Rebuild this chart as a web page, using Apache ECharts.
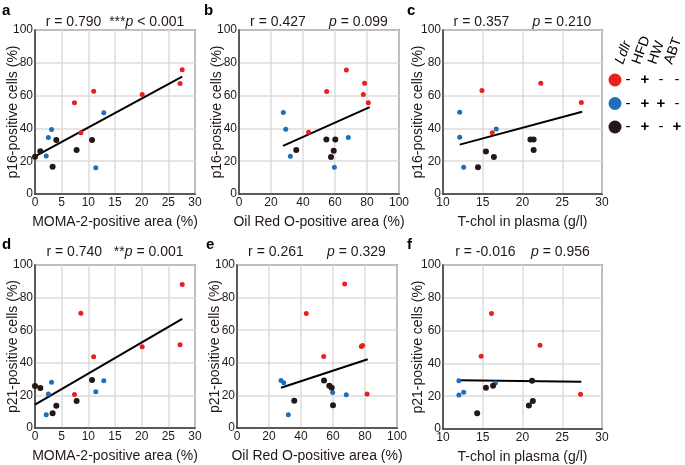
<!DOCTYPE html>
<html>
<head>
<meta charset="utf-8">
<script src="https://cdn.jsdelivr.net/npm/echarts@6/dist/echarts.min.js"></script>
<style>
  html, body { margin: 0; padding: 0; background: #fff; }
  #chart { width: 685px; height: 465px; }
</style>
</head>
<body>
<div id="chart"></div>
<script>
// values, [x, y] per mouse
var aRed = [[27.6, 75.7], [27.2, 67.4], [20.1, 60.7], [11.0, 62.7], [7.4, 55.6], [8.6, 37.4]];
var aBlue = [[12.9, 49.5], [3.1, 39.4], [2.5, 34.5], [2.1, 23.1], [11.4, 16.0]];
var aBlack = [[0, 22.7], [1.0, 26.0], [4.0, 32.9], [3.3, 16.6], [7.8, 26.8], [10.7, 32.9]];
var aFit = [[0, 22.9], [27.6, 71.5]];

var bRed = [[67.1, 75.6], [78.5, 67.6], [77.7, 60.7], [54.8, 62.5], [80.8, 55.6], [43.5, 37.7]];
var bBlue = [[27.7, 49.7], [29.2, 39.5], [32.1, 23.0], [68.3, 34.4], [59.6, 16.3]];
var bBlack = [[35.8, 26.9], [54.6, 33.2], [60.2, 33.2], [59.2, 26.3], [57.5, 22.6]];
var bFit = [[27.5, 29.3], [81.7, 53.0]];

var cRed = [[14.9, 63.1], [22.3, 67.6], [27.4, 55.8], [16.2, 37.3]];
var cBlue = [[12.1, 49.9], [12.1, 34.6], [12.6, 16.3], [16.7, 39.7]];
var cBlack = [[14.4, 16.3], [15.4, 25.9], [16.4, 22.6], [21.0, 33.2], [21.4, 33.2], [21.4, 26.9]];
var cFit = [[12.1, 30.1], [27.5, 50.1]];

var dRed = [[27.6, 88.0], [27.2, 51.0], [20.1, 49.8], [11.0, 43.7], [8.6, 70.4], [7.4, 20.6]];
var dBlue = [[12.9, 29.0], [3.1, 28.0], [2.5, 20.8], [2.1, 8.2], [11.4, 22.2]];
var dBlack = [[0, 25.7], [1.0, 24.5], [4.0, 13.7], [3.3, 9.0], [7.8, 16.5], [10.7, 29.4]];
var dFit = [[0, 14.3], [27.6, 66.9]];

var eRed = [[67.3, 88.4], [43.3, 70.2], [77.7, 50.0], [78.5, 50.6], [54.2, 43.9], [81.3, 20.8]];
var eBlue = [[27.5, 29.2], [29.2, 27.8], [32.1, 8.2], [59.8, 21.8], [68.3, 20.4]];
var eBlack = [[35.8, 16.7], [54.4, 29.2], [57.7, 25.9], [59.2, 24.7], [60.0, 13.9]];
var eFit = [[27.5, 24.7], [81.7, 42.2]];

var fRed = [[16.1, 70.4], [22.2, 51.0], [14.8, 44.3], [27.3, 21.2]];
var fBlue = [[12.0, 29.4], [12.0, 20.8], [12.6, 22.4], [16.6, 28.0]];
var fBlack = [[14.3, 9.6], [15.4, 25.1], [16.3, 26.3], [21.2, 29.4], [20.8, 14.3], [21.3, 17.1]];
var fFit = [[12.0, 29.8], [27.4, 28.8]];

var xNames = ['MOMA-2-positive area (%)', 'Oil Red O-positive area (%)', 'T-chol in plasma (g/l)'];
var yNames = ['p16-positive cells (%)', 'p21-positive cells (%)'];
var xRanges = [[0, 30, 5], [0, 100, 20], [10, 30, 5]];
var titles = [
  'r = 0.790  ***{i|p} < 0.001',
  'r = 0.427      {i|p} = 0.099',
  'r = 0.357      {i|p} = 0.210',
  'r = 0.740   **{i|p} = 0.001',
  'r = 0.261      {i|p} = 0.329',
  'r = -0.016    {i|p} = 0.956'
];
var letters = ['a', 'b', 'c', 'd', 'e', 'f'];
var legendRows = [['-', '+', '-', '-'], ['-', '+', '+', '-'], ['-', '+', '-', '+']];
var legendHeads = ['Ldlr', 'HFD', 'HW', 'ABT'];

var RED = '#e8211c', BLUE = '#1f6fb8', BLACK = '#231815';
var FONT = '"Liberation Sans", Arial, sans-serif';

var panels = [
  [aRed, aBlue, aBlack, aFit], [bRed, bBlue, bBlack, bFit], [cRed, cBlue, cBlack, cFit],
  [dRed, dBlue, dBlack, dFit], [eRed, eBlue, eBlack, eFit], [fRed, fBlue, fBlack, fFit]
];
var grids = [
  {left: 35, top: 30, width: 160, height: 164},
  {left: 239, top: 30, width: 160, height: 164},
  {left: 443, top: 30, width: 159, height: 164},
  {left: 35, top: 265, width: 160, height: 163},
  {left: 237, top: 265, width: 160, height: 163},
  {left: 443, top: 265, width: 159, height: 164}
];
var letterPos = [[2, 3], [204, 3], [407, 3], [2, 237], [206, 237], [407, 237]];

var grid = [], xAxis = [], yAxis = [], series = [], title = [], graphic = [];

for (var i = 0; i < 6; i++) {
  var col = i % 3, row = Math.floor(i / 3);
  var g = grids[i];
  grid.push({
    left: g.left, top: g.top, width: g.width, height: g.height,
    show: true, borderColor: '#3a3a3a', borderWidth: 1.5, backgroundColor: 'transparent'
  });
  xAxis.push({
    type: 'value', gridIndex: i,
    min: xRanges[col][0], max: xRanges[col][1], interval: xRanges[col][2],
    name: xNames[col], nameLocation: 'middle', nameGap: 21, nameMoveOverlap: false,
    nameTextStyle: {fontSize: 14, color: BLACK, fontFamily: FONT},
    axisLine: {show: true, lineStyle: {color: '#3a3a3a', width: 1.5}},
    axisTick: {show: false},
    axisLabel: {fontSize: 12, color: BLACK, margin: 3, fontFamily: FONT},
    splitLine: {show: true, lineStyle: {color: '#dcdcdc', width: 1.5}}
  });
  yAxis.push({
    type: 'value', gridIndex: i, min: 0, max: 100, interval: 20,
    name: yNames[row], nameLocation: 'middle', nameGap: col == 2 ? 18 : 15, nameMoveOverlap: false,
    nameTextStyle: {fontSize: 14, color: BLACK, fontFamily: FONT},
    axisLine: {show: true, lineStyle: {color: '#3a3a3a', width: 1.5}},
    axisTick: {show: false},
    axisLabel: {fontSize: 12, color: BLACK, margin: 2, fontFamily: FONT},
    splitLine: {show: true, lineStyle: {color: '#dcdcdc', width: 1.5}}
  });

  var p = panels[i];
  series.push({
    type: 'line', xAxisIndex: i, yAxisIndex: i, data: p[3],
    symbol: 'none', lineStyle: {color: '#000', width: 2}, z: 2, silent: true
  });
  series.push({type: 'scatter', xAxisIndex: i, yAxisIndex: i, data: p[0], symbolSize: 5, itemStyle: {color: RED, opacity: 1}, z: 3});
  series.push({type: 'scatter', xAxisIndex: i, yAxisIndex: i, data: p[1], symbolSize: 5, itemStyle: {color: BLUE, opacity: 1}, z: 3});
  series.push({type: 'scatter', xAxisIndex: i, yAxisIndex: i, data: p[2], symbolSize: 6, itemStyle: {color: BLACK, opacity: 1}, z: 3});

  title.push({
    text: titles[i], left: g.left + g.width / 2, top: row == 0 ? 15 : 245, textAlign: 'center', padding: 0,
    textStyle: {
      fontSize: 14, fontWeight: 'normal', color: BLACK, fontFamily: FONT,
      rich: {i: {fontSize: 14, fontStyle: 'italic', color: BLACK, fontFamily: FONT}}
    }
  });
  graphic.push({
    type: 'text', left: letterPos[i][0], top: letterPos[i][1],
    style: {text: letters[i], font: 'bold 15px ' + FONT, fill: '#000'}
  });
}

// legend on the right: group dots and +/- table
var dotColors = [RED, BLUE, BLACK];
var signX = [628, 645, 661, 677];
for (var r = 0; r < 3; r++) {
  var cy = 80 + r * 23.5;
  graphic.push({type: 'circle', shape: {cx: 615, cy: cy, r: 6.5}, style: {fill: dotColors[r]}});
  for (var k = 0; k < 4; k++) {
    graphic.push({
      type: 'text', x: signX[k], y: cy,
      style: {text: legendRows[r][k], font: (legendRows[r][k] == '+' ? 'bold ' : '') + '15px ' + FONT,
        fill: '#000', textAlign: 'center', textVerticalAlign: 'middle'}
    });
  }
}
for (var h = 0; h < 4; h++) {
  graphic.push({
    type: 'text', x: signX[h] - 2, y: 66, rotation: 70 * Math.PI / 180,
    style: {text: legendHeads[h], font: (h == 0 ? 'italic ' : '') + '14px ' + FONT,
      fill: '#000', textAlign: 'left', textVerticalAlign: 'bottom'}
  });
}

var myChart = echarts.init(document.getElementById('chart'));
myChart.setOption({
  animation: false,
  title: title,
  grid: grid,
  xAxis: xAxis,
  yAxis: yAxis,
  series: series,
  graphic: graphic
});
</script>
</body>
</html>
